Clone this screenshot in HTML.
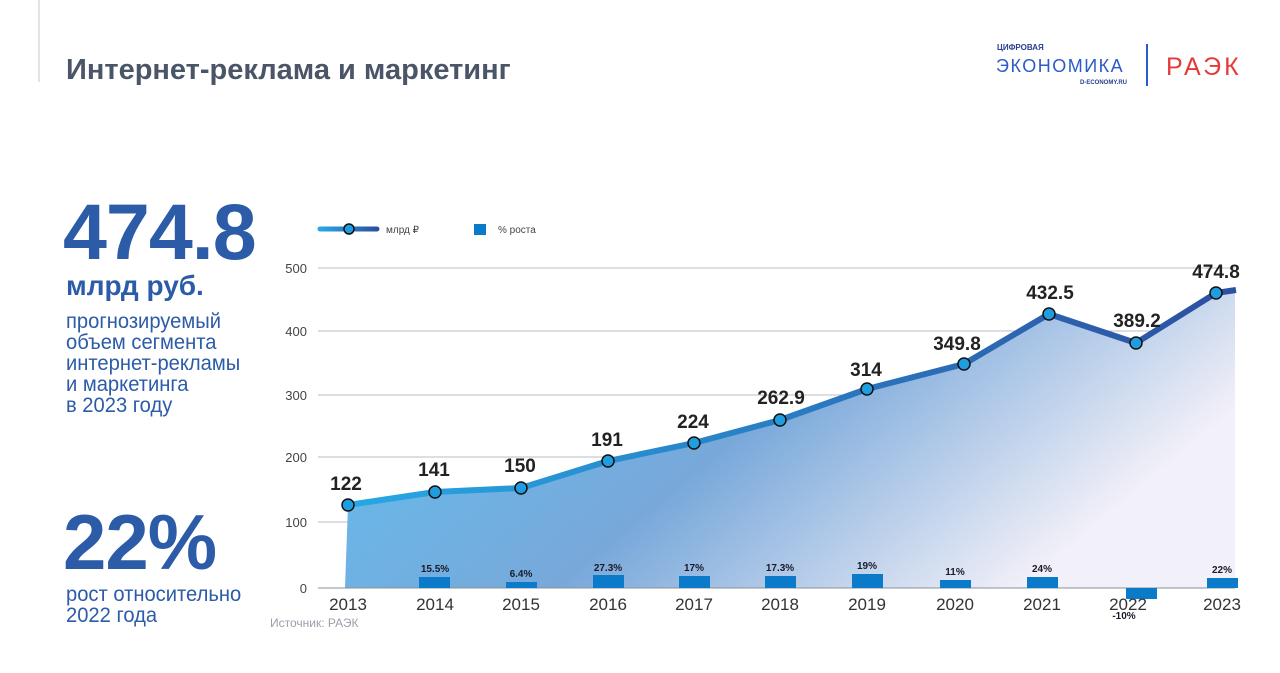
<!DOCTYPE html>
<html><head><meta charset="utf-8"><style>
body{margin:0;width:1280px;height:673px;background:#fff;font-family:"Liberation Sans",sans-serif;overflow:hidden;position:relative}
.t{position:absolute;white-space:nowrap}
</style></head><body>
<div style="position:absolute;left:38px;top:0;width:2px;height:82px;background:#dfe3ea"></div>
<div class="t" style="left:66px;top:54px;font-size:29px;font-weight:bold;color:#4a5568">Интернет-реклама и маркетинг</div>
<div class="t" style="left:997px;top:43px;font-size:8px;font-weight:bold;color:#2a3f8f">ЦИФРОВАЯ</div>
<div class="t" style="left:996px;top:56px;font-size:18px;letter-spacing:1.5px;color:#2a5bc8">ЭКОНОМИКА</div>
<div class="t" style="left:1080px;top:80px;font-size:6px;font-weight:bold;color:#2a3f8f">D-ECONOMY.RU</div>
<div style="position:absolute;left:1146px;top:44px;width:2px;height:42px;background:#2a5bc8"></div>
<div class="t" style="left:1166px;top:53px;font-size:25px;letter-spacing:3px;color:#e63a3a">РАЭК</div>
<div class="t" style="left:63px;top:186px;font-size:79px;font-weight:bold;color:#2c5ba8;letter-spacing:-1px">474.8</div>
<div class="t" style="left:66px;top:270px;font-size:28px;font-weight:bold;color:#2c5ba8">млрд руб.</div>
<div class="t" style="left:66px;top:311px;font-size:21px;line-height:21px;color:#2c5ba8;transform:scaleX(0.96);transform-origin:left">прогнозируемый<br>объем сегмента<br>интернет-рекламы<br>и маркетинга<br>в 2023 году</div>
<div class="t" style="left:63px;top:497px;font-size:78px;font-weight:bold;color:#2c5ba8;letter-spacing:-1px">22%</div>
<div class="t" style="left:66px;top:584px;font-size:21px;line-height:21px;color:#2c5ba8;transform:scaleX(0.96);transform-origin:left">рост относительно<br>2022 года</div>
<div class="t" style="left:270px;top:616px;font-size:12px;color:#9aa0aa">Источник: РАЭК</div>
<svg width="1280" height="673" style="position:absolute;left:0;top:0" font-family="Liberation Sans, sans-serif">
<defs>
<linearGradient id="a" x1="0" x2="1" y1="0" y2="0.4"><stop offset="0" stop-color="#5ec2f2"/><stop offset="0.55" stop-color="#78a8da"/><stop offset="1" stop-color="#f2f0f8"/></linearGradient>
<linearGradient id="l" x1="0" x2="1"><stop offset="0" stop-color="#27a8e4"/><stop offset="1" stop-color="#2d4fa0"/></linearGradient>
<linearGradient id="lg" gradientUnits="userSpaceOnUse" x1="320" x2="377" y1="0" y2="0"><stop offset="0" stop-color="#27a8e4"/><stop offset="1" stop-color="#2d4fa0"/></linearGradient>
</defs>
<g stroke="#b8bcc4" stroke-width="1">
<line x1="318" y1="268" x2="1235" y2="268"/><line x1="318" y1="331" x2="1235" y2="331"/><line x1="318" y1="395" x2="1235" y2="395"/><line x1="318" y1="457" x2="1235" y2="457"/><line x1="318" y1="522" x2="1235" y2="522"/>
</g>
<polygon fill="url(#a)" points="348,505 435,492 521,488 608,461 694,443 780,420 867,389 964,364 1049,314 1136,343 1216,293 1235,290 1235,588 345,588"/>
<line x1="318" y1="588" x2="1235" y2="588" stroke="#8a9099"/>
<g fill="#0b7ac8">
<rect x="419" y="577" width="31" height="11"/><rect x="506" y="582" width="31" height="6"/><rect x="593" y="575" width="31" height="13"/><rect x="679" y="576" width="31" height="12"/><rect x="765" y="576" width="31" height="12"/><rect x="852" y="574" width="31" height="14"/><rect x="940" y="580" width="31" height="8"/><rect x="1027" y="577" width="31" height="11"/><rect x="1126" y="588" width="31" height="11"/><rect x="1207" y="578" width="31" height="10"/>
</g>
<polyline fill="none" stroke="url(#l)" stroke-width="6" stroke-linejoin="round" points="348,505 435,492 521,488 608,461 694,443 780,420 867,389 964,364 1049,314 1136,343 1216,293 1236,290"/>
<g fill="#1e9ee0" stroke="#111" stroke-width="1.5">
<circle cx="348" cy="505" r="6"/><circle cx="435" cy="492" r="6"/><circle cx="521" cy="488" r="6"/><circle cx="608" cy="461" r="6"/><circle cx="694" cy="443" r="6"/><circle cx="780" cy="420" r="6"/><circle cx="867" cy="389" r="6"/><circle cx="964" cy="364" r="6"/><circle cx="1049" cy="314" r="6"/><circle cx="1136" cy="343" r="6"/><circle cx="1216" cy="293" r="6"/>
</g>
<g font-size="19" font-weight="bold" fill="#222" text-anchor="middle">
<text x="346" y="490">122</text><text x="434" y="476">141</text><text x="520" y="472">150</text><text x="607" y="446">191</text><text x="693" y="428">224</text><text x="781" y="404">262.9</text><text x="866" y="376">314</text><text x="957" y="350">349.8</text><text x="1050" y="299">432.5</text><text x="1137" y="327">389.2</text><text x="1216" y="278">474.8</text>
</g>
<g font-size="10" font-weight="bold" fill="#1a1a2a" text-anchor="middle">
<text x="435" y="572">15.5%</text><text x="521" y="577">6.4%</text><text x="608" y="571">27.3%</text><text x="694" y="571">17%</text><text x="780" y="571">17.3%</text><text x="867" y="569">19%</text><text x="955" y="575">11%</text><text x="1042" y="572">24%</text><text x="1124" y="619">-10%</text><text x="1222" y="573">22%</text>
</g>
<g font-size="13" fill="#444" text-anchor="end">
<text x="307" y="273">500</text><text x="307" y="336">400</text><text x="307" y="400">300</text><text x="307" y="462">200</text><text x="307" y="527">100</text><text x="307" y="593">0</text>
</g>
<g font-size="17" fill="#333" text-anchor="middle">
<text x="348" y="610">2013</text><text x="435" y="610">2014</text><text x="521" y="610">2015</text><text x="608" y="610">2016</text><text x="694" y="610">2017</text><text x="780" y="610">2018</text><text x="867" y="610">2019</text><text x="955" y="610">2020</text><text x="1042" y="610">2021</text><text x="1128" y="610">2022</text><text x="1222" y="610">2023</text>
</g>
<line x1="320" y1="229" x2="377" y2="229" stroke="url(#lg)" stroke-width="5" stroke-linecap="round"/>
<circle cx="349" cy="229" r="5" fill="#1e9ee0" stroke="#111" stroke-width="1.5"/>
<text x="386" y="233" font-size="10" fill="#444">млрд ₽</text>
<rect x="474" y="224" width="12" height="11" fill="#0b7ac8"/>
<text x="498" y="233" font-size="10" fill="#444">% роста</text>
</svg>
</body></html>
